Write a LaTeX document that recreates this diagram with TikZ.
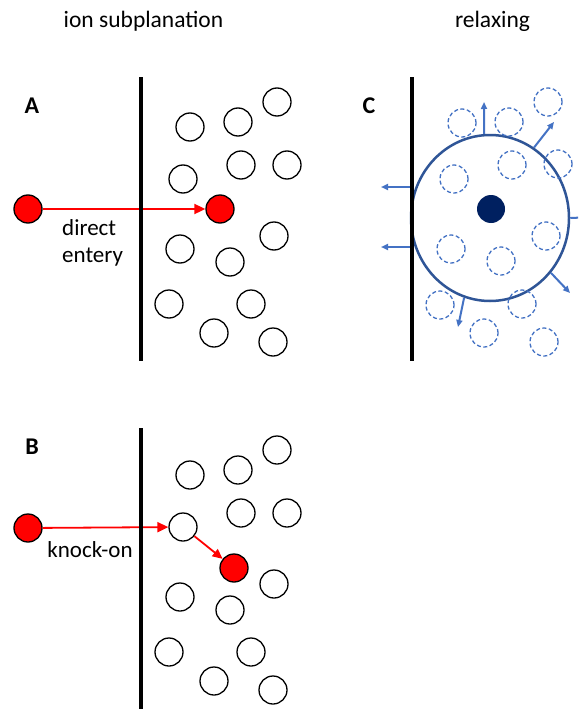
\documentclass[tikz,border=0pt]{standalone}
\usepackage{fontspec}
\setmainfont{Carlito}
\usetikzlibrary{arrows.meta,shapes.geometric}
\definecolor{ionred}{RGB}{255,0,0}
\definecolor{relaxblue}{RGB}{68,114,196}
\definecolor{shellblue}{RGB}{47,85,151}
\definecolor{corenavy}{RGB}{0,32,96}
\tikzset{
  atom/.style={circle,draw=black,line width=1.3pt,minimum size=28pt,inner sep=0pt},
  ion/.style={atom,fill=ionred},
  ghost/.style={circle,draw=relaxblue,line width=1.3pt,dash pattern=on 4pt off 2.5pt,minimum size=28pt,inner sep=0pt},
  surface/.style={line width=3.5pt,black},
  ionpath/.style={draw=ionred,line width=1.8pt,-{Triangle[length=11pt,width=10pt]}},
  pushout/.style={draw=relaxblue,line width=2pt,-{Triangle[length=7pt,width=6pt]}},
  heading/.style={font=\fontsize{23.5}{28}\selectfont,inner sep=0pt},
  panel/.style={font=\fontsize{24}{28}\selectfont\bfseries,inner sep=0pt},
  caption/.style={font=\fontsize{23}{27}\selectfont,align=left,inner sep=0pt},
}
\begin{document}
\begin{tikzpicture}[x=1pt,y=-1pt]
\clip (0,0) rectangle (578,709);
\fill[white] (0,0) rectangle (578,709);

% headings and panel letters
\node[heading,anchor=base] (t1) at (143.5,28) {ion subplanation};
\node[heading,anchor=base] (t2) at (492.5,28) {relaxing};
\node[panel] (la) at (32,105.5) {A};
\node[panel] (lb) at (32,447) {B};
\node[panel] (lc) at (369,105.5) {C};

% surfaces
\coordinate (sa1) at (141,77);  \coordinate (sa2) at (141,361);
\coordinate (sb1) at (141,428); \coordinate (sb2) at (141,709);
\coordinate (sc1) at (412,77);  \coordinate (sc2) at (412,361);

% lattice atoms (same arrangement in every panel)
\foreach \x/\y [count=\i] in {190/127,238/122,277/102,183/179,241/165,287/165,
    180/249,274/236,230/262,169/304,251/304,214/333,273/342}{
  \node[atom] (a\i) at (\x,\y) {};
  \node[atom] (b\i) at (\x,\y+348) {};
}

% panel A: direct entry
\node[ion] (srcA) at (28,209) {};
\node[ion] (endA) at (220,209) {};
\draw[ionpath] (srcA) -- (endA);
\draw[surface] (sa1) -- (sa2);
\node[caption,anchor=base west] (capA) at (62,262) {direct\\entery};

% panel B: knock-on
\node[ion] (srcB) at (28,528) {};
\node[ion] (endB) at (234,568) {};
\draw[ionpath] (srcB) -- (b4);
\draw[surface] (sb1) -- (sb2);
\draw[ionpath,-{Triangle[length=10pt,width=9pt]}] (b4) -- (endB);
\node[caption,anchor=base] (capB) at (90,557) {knock-on};

% panel C: relaxing
\node[ellipse,draw=shellblue,line width=2.5pt,minimum width=158pt,minimum height=166pt,inner sep=0pt] (shell) at (490,218) {};
\foreach \x/\y [count=\i] in {462/123,509/122,548/102,454/179,512/165,558/164,
    451/249,546/236,501/261,440/305,522/304,484/333,544/342}{
  \node[ghost] (c\i) at (\x,\y) {};
}
\node[circle,fill=corenavy,minimum size=28pt,inner sep=0pt] (core) at (491,209) {};
\coordinate (o1) at (484,102);
\coordinate (o2) at (554,122);
\coordinate (o3) at (595,217);
\coordinate (o4) at (570,293);
\coordinate (o5) at (458,327);
\coordinate (w1) at (410,187); \coordinate (e1) at (381,187);
\coordinate (w2) at (410,247); \coordinate (e2) at (381,247);
\draw[pushout] (shell.94) -- (o1);
\draw[pushout] (shell.58) -- (o2);
\draw[pushout] (shell.0) -- (o3);
\draw[pushout] (shell.-42) -- (o4);
\draw[pushout] (shell.-108) -- (o5);
\draw[pushout] (w1) -- (e1);
\draw[pushout] (w2) -- (e2);
\draw[surface] (sc1) -- (sc2);
\end{tikzpicture}
\end{document}
